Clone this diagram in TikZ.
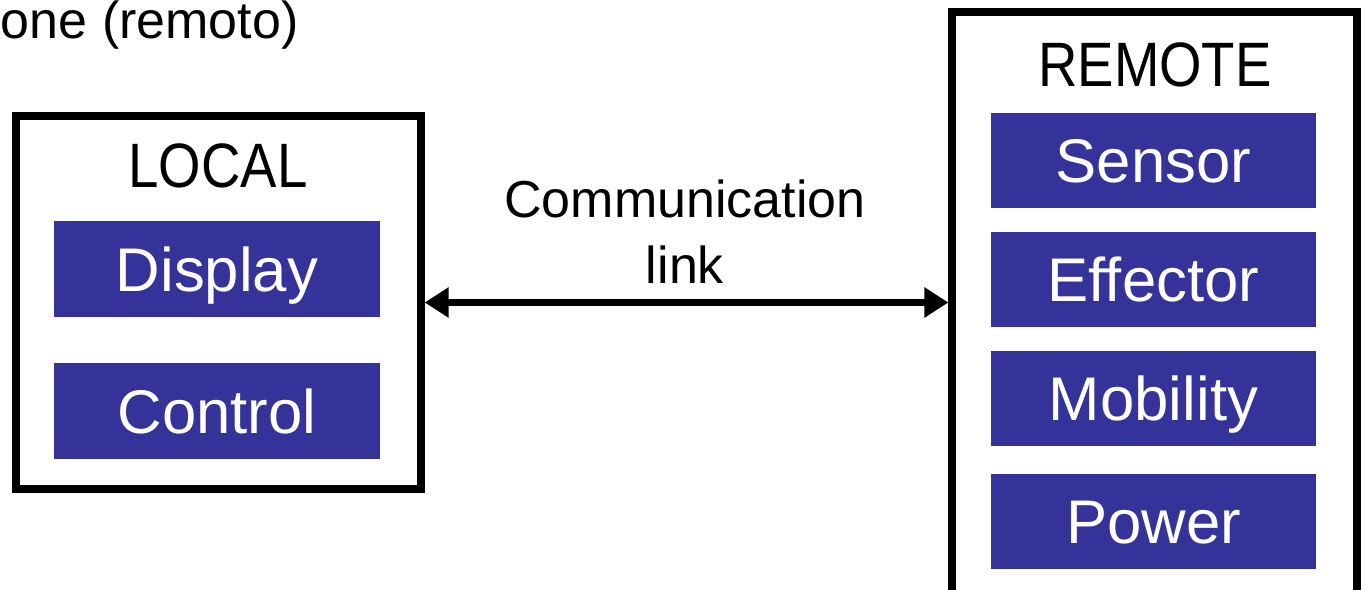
\documentclass[tikz,border=0pt]{standalone}
\usepackage{fontspec}
\setmainfont{Liberation Sans}
\newfontfamily\capsfont{Liberation Sans}[FakeStretch=0.87]
\usetikzlibrary{arrows.meta}
\definecolor{boxblue}{RGB}{53,51,153}

\begin{document}
\begin{tikzpicture}[x=0.02cm,y=-0.02cm,
  frame/.style={draw, line width=4.2pt, inner sep=0pt, minimum width=8.1cm},
  part/.style={fill=boxblue, text=white, inner sep=0pt,
    minimum width=6.51cm, minimum height=1.91cm,
    text height=25.1pt, text depth=0pt, font=\fontsize{35.1}{40}\selectfont},
  title/.style={anchor=base, font=\capsfont\fontsize{35.7}{40}\selectfont},
  label/.style={anchor=base, align=center, font=\fontsize{29.6}{37.4}\selectfont},
  link/.style={line width=4pt,
    {Triangle[length=13.6pt,width=16.4pt]}-{Triangle[length=13.6pt,width=16.4pt]}}]

  \useasboundingbox (0,0) rectangle (1366,589);
  \clip (0,0) rectangle (1366,589);

  % local side
  \node[frame, minimum height=7.46cm] (local) at (218.5,302.5) {};
  \node[title] (localtitle) at (218,187) {LOCAL};
  \foreach \y/\name in {269/Display, 411/Control}
    \node[part] (\name) at (217,\y) {\name};

  % remote side
  \node[frame, minimum height=11.76cm] (remote) at (1154.5,306) {};
  \node[title] (remotetitle) at (1155,86) {REMOTE};
  \foreach \y/\name in {160.5/Sensor, 279.5/Effector, 398.5/Mobility, 521.5/Power}
    \node[part] (\name) at (1153.5,\y) {\name};

  % link between them
  \draw[link] (local.east) -- (local.east -| remote.west);
  \node[label] (linklabel) at (685,283) {Communication\\link};

  \node[label, anchor=base east, inner sep=0pt] (zone) at (299,38) {one (remoto)};

\end{tikzpicture}
\end{document}
